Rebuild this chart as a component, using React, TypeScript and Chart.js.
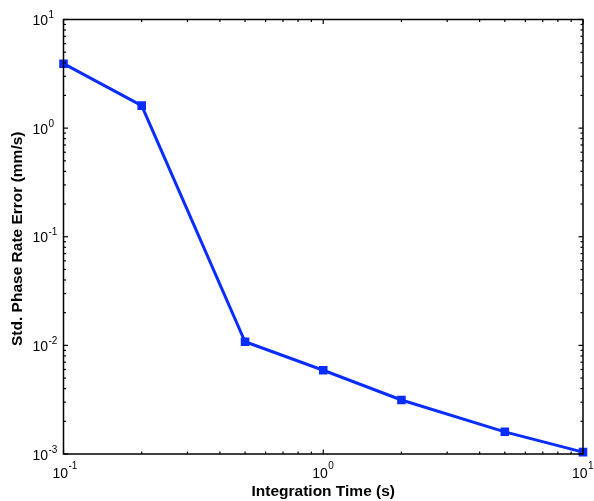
import React, { useEffect, useRef } from "react";
import { Chart, registerables } from "chart.js";

Chart.register(...registerables);

const integrationTimes = [0.1, 0.2, 0.5, 1, 2, 5, 10];
const phaseRateError = [3.92, 1.61, 0.0108, 0.0059, 0.00314, 0.0016, 0.00104];
const xDecades = [-1, 0, 1];
const yDecades = [-3, -2, -1, 0, 1];
const xTitle = "Integration Time (s)";
const yTitle = "Std. Phase Rate Error (mm/s)";

const FONT = "'Liberation Sans', Arial, Helvetica, sans-serif";
const LINE_COLOR = "#0a2dff";

const framePlugin = {
  id: "matlabFrame",
  afterDraw(chart: any) {
    const { ctx, chartArea } = chart;
    const { left, right, top, bottom } = chartArea;
    const xs = chart.scales.x;
    const ys = chart.scales.y;
    ctx.save();
    ctx.strokeStyle = "#000";
    ctx.lineWidth = 1.5;
    ctx.strokeRect(left, top, right - left, bottom - top);
    ctx.lineWidth = 1.2;
    const tick = (x1: number, y1: number, x2: number, y2: number) => {
      ctx.beginPath();
      ctx.moveTo(x1, y1);
      ctx.lineTo(x2, y2);
      ctx.stroke();
    };
    const xMax = Math.pow(10, xDecades[xDecades.length - 1]);
    const yMax = Math.pow(10, yDecades[yDecades.length - 1]);
    for (let d = xDecades[0]; d <= xDecades[xDecades.length - 1]; d++) {
      for (let m = 1; m <= 9; m++) {
        const v = m * Math.pow(10, d);
        if (v > xMax * 1.0000001) break;
        const px = xs.getPixelForValue(v);
        const len = m === 1 ? 4.5 : 2.5;
        tick(px, bottom, px, bottom - len);
        tick(px, top, px, top + len);
      }
    }
    for (let d = yDecades[0]; d <= yDecades[yDecades.length - 1]; d++) {
      for (let m = 1; m <= 9; m++) {
        const v = m * Math.pow(10, d);
        if (v > yMax * 1.0000001) break;
        const py = ys.getPixelForValue(v);
        const len = m === 1 ? 4.5 : 2.5;
        tick(left, py, left + len, py);
        tick(right, py, right - len, py);
      }
    }
    ctx.fillStyle = "#000";
    ctx.textBaseline = "alphabetic";
    const baseFont = `14px ${FONT}`;
    const expFont = `10px ${FONT}`;
    xDecades.forEach((d) => {
      const px = xs.getPixelForValue(Math.pow(10, d));
      ctx.font = baseFont;
      ctx.textAlign = "right";
      ctx.fillText("10", px + 4.5, bottom + 24);
      ctx.font = expFont;
      ctx.textAlign = "left";
      ctx.fillText(String(d), px + 5, bottom + 15);
    });
    yDecades.forEach((d) => {
      const py = ys.getPixelForValue(Math.pow(10, d));
      ctx.font = baseFont;
      ctx.textAlign = "right";
      ctx.fillText("10", 48, py + 5.5);
      ctx.font = expFont;
      ctx.textAlign = "left";
      ctx.fillText(String(d), 48.5, py - 1.5);
    });
    ctx.font = `bold 15.5px ${FONT}`;
    ctx.textAlign = "center";
    ctx.fillText(xTitle, (left + right) / 2, 496);
    ctx.save();
    ctx.translate(22, (top + bottom) / 2 + 2);
    ctx.rotate(-Math.PI / 2);
    ctx.fillText(yTitle, 0, 0);
    ctx.restore();
    ctx.restore();
  },
};

export default function App() {
  const ref = useRef<HTMLCanvasElement | null>(null);
  useEffect(() => {
    if (!ref.current) return;
    const chart = new Chart(ref.current, {
      type: "line",
      data: {
        datasets: [
          {
            data: integrationTimes.map((x, i) => ({ x, y: phaseRateError[i] })),
            borderColor: LINE_COLOR,
            backgroundColor: LINE_COLOR,
            borderWidth: 3,
            pointStyle: "rect",
            pointRadius: 5,
            pointBorderWidth: 1.5,
            tension: 0,
            clip: false as any,
          },
        ],
      },
      options: {
        animation: false,
        responsive: false,
        events: [],
        layout: { padding: { left: 63.5, right: 11, top: 19.5, bottom: 47 } },
        plugins: { legend: { display: false }, tooltip: { enabled: false } },
        scales: {
          x: { type: "logarithmic", min: 0.1, max: 10, display: false },
          y: { type: "logarithmic", min: 0.001, max: 10, display: false },
        },
      },
      plugins: [framePlugin],
    });
    return () => chart.destroy();
  }, []);
  return (
    <div style={{ position: "fixed", left: 0, top: 0, width: 594, height: 501, background: "#fff" }}>
      <canvas ref={ref} width={594} height={501} style={{ display: "block" }} />
    </div>
  );
}
